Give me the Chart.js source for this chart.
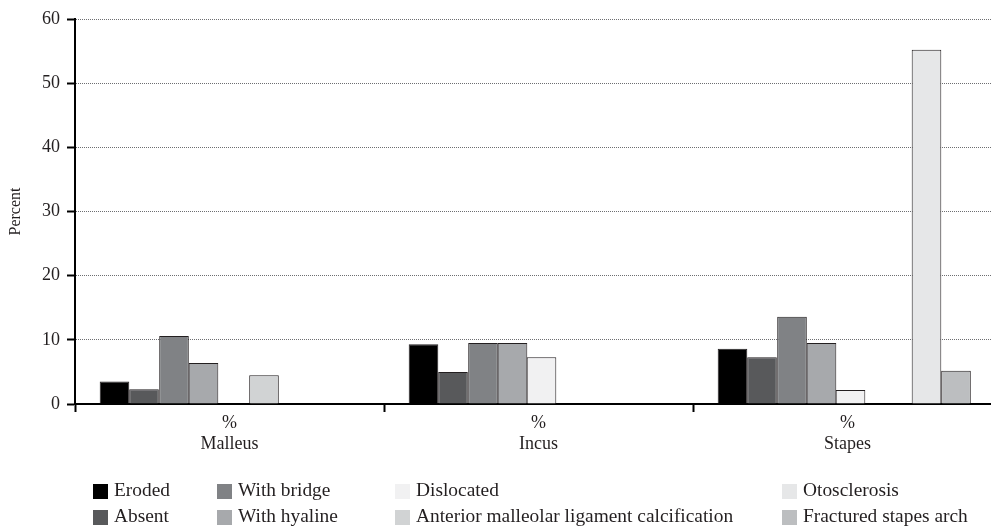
<!DOCTYPE html>
<html>
<head>
<meta charset="utf-8">
<script src="https://cdn.jsdelivr.net/npm/chart.js@4"></script>
<style>
  html, body { margin: 0; padding: 0; background: #fff; overflow: hidden; }
  #wrap { position: relative; width: 1012px; height: 529px; }
  #legend { position: absolute; left: 0; top: 0; width: 991px; height: 529px; pointer-events: none;
            font-family: "Liberation Serif", "DejaVu Serif", serif; font-size: 19.4px; color: #231f20; }
  .item { position: absolute; white-space: nowrap; line-height: 16px; }
  .sw { position: absolute; left: 0; top: 0; width: 15px; height: 15px; }
  .lb { position: absolute; left: 21px; top: -2px; }
</style>
</head>
<body>
<div id="wrap"><canvas id="c"></canvas><div id="legend"></div></div>
<script>
// ---- data ----
const categories = ['Malleus', 'Incus', 'Stapes'];
const unitLine = '%';
const seriesNames = ['Eroded', 'Absent', 'With bridge', 'With hyaline', 'Dislocated',
  'Anterior malleolar ligament calcification', 'Otosclerosis', 'Fractured stapes arch'];
const eroded = [3.5, 9.3, 8.6];
const absent = [2.3, 5.0, 7.3];
const withBridge = [10.6, 9.5, 13.6];
const withHyaline = [6.4, 9.5, 9.5];
const dislocated = [null, 7.3, 2.2];
const anteriorMalleolar = [4.5, null, null];
const otosclerosis = [null, null, 55.2];
const fracturedStapesArch = [null, null, 5.2];
const yMin = 0, yMax = 60, yStep = 10;

// ---- styles ----
const seriesColors = ['#000000', '#58595b', '#808285', '#a7a9ac', '#f1f1f2', '#d1d3d4', '#e6e7e8', '#bcbec0'];
const catPct = [0.8507, 0.8854, 0.9579, 1.3463, 0.1553, 0.5955, 0.8181, 0.8026];
const barPct = [0.9009, 0.8655, 0.8, 0.5692, 4.933, 1.287, 0.9367, 0.9548];
const legendCols = [93, 217, 395, 782];
const legendRows = [484, 510];

const values = [eroded, absent, withBridge, withHyaline, dislocated, anteriorMalleolar, otosclerosis, fracturedStapesArch];
const font = { family: '"Liberation Serif", "DejaVu Serif", serif', size: 18 };

const datasets = values.map((v, i) => ({
  label: seriesNames[i],
  data: v,
  backgroundColor: seriesColors[i],
  borderColor: '#231f20',
  borderWidth: 1,
  categoryPercentage: catPct[i],
  barPercentage: barPct[i]
}));

new Chart(document.getElementById('c'), {
  type: 'bar',
  data: { labels: categories.map(c => [unitLine, c]), datasets },
  options: {
    responsive: true,
    maintainAspectRatio: false,
    animation: false,
    events: [],
    layout: { padding: { top: 19, right: 10, bottom: 0, left: 0 } },
    plugins: { legend: { display: false }, tooltip: { enabled: false } },
    scales: {
      x: {
        offset: true,
        grid: { display: true, drawOnChartArea: false, drawTicks: true, tickLength: 8,
                tickColor: '#000', tickWidth: 2, offset: true },
        border: { display: true, color: '#000', width: 2 },
        ticks: { font, color: '#231f20', padding: 0, maxRotation: 0, autoSkip: false },
        afterFit: s => { s.height = 125; }
      },
      y: {
        min: yMin, max: yMax,
        ticks: { stepSize: yStep, font, color: '#231f20', padding: 7 },
        grid: { color: '#6d6e71', lineWidth: 1, tickColor: '#000', tickWidth: 2, tickLength: 8 },
        border: { display: true, color: '#000', width: 2, dash: [1, 1] },
        title: { display: true, text: 'Percent', color: '#231f20',
                 font: { family: font.family, size: 16 }, padding: { top: 6, bottom: 0 } },
        afterFit: s => { s.width = 75; }
      }
    }
  }
});

// ---- legend (column-major, 2 rows) ----
const leg = document.getElementById('legend');
seriesNames.forEach((name, i) => {
  const col = Math.floor(i / 2), row = i % 2;
  const d = document.createElement('div');
  d.className = 'item';
  d.style.left = legendCols[col] + 'px';
  d.style.top = legendRows[row] + 'px';
  d.innerHTML = '<span class="sw"></span><span class="lb"></span>';
  d.querySelector('.sw').style.background = seriesColors[i];
  d.querySelector('.lb').textContent = name;
  leg.appendChild(d);
});
</script>
</body>
</html>
